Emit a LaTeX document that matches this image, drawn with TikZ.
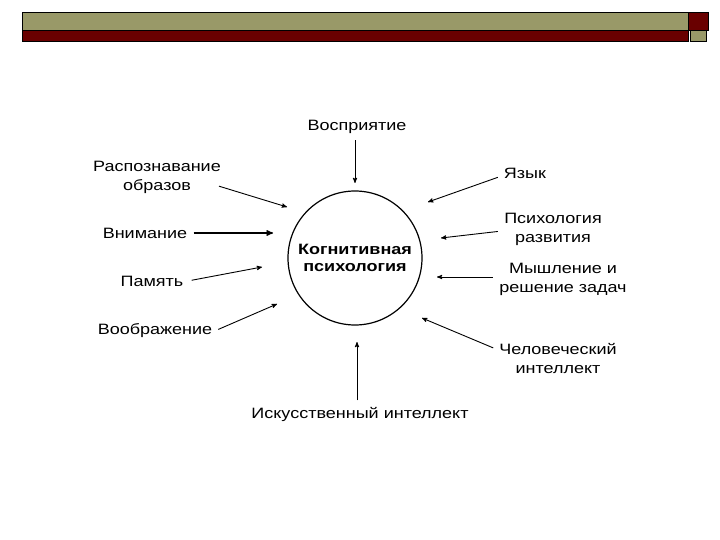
\documentclass[tikz,border=0pt]{standalone}
\usepackage{fontspec}
\setmainfont{Liberation Sans}
\newfontfamily\widesans[FakeStretch=1.2]{Liberation Sans}
\usetikzlibrary{arrows}

\definecolor{barolive}{RGB}{153,153,104}
\definecolor{barred}{RGB}{105,0,0}

\begin{document}
\begin{tikzpicture}[x=1pt,y=-1pt,->,>=stealth',thick,
  topic/.style={font=\widesans\fontsize{15}{19}\selectfont,align=center,inner sep=2pt},
  core/.style={circle,draw,line width=1.2pt,minimum size=134pt,align=center,
    font=\widesans\fontsize{15}{17}\selectfont\bfseries},
  feed/.style={line width=0.9pt,shorten <=4pt}]

  \useasboundingbox (0,0) rectangle (720,540);

  % title bar
  \fill[barolive,draw=black,line width=0.6pt] (22,12) rectangle (688,30);
  \fill[barred,draw=black,line width=0.6pt] (22,30) rectangle (688,41);
  \fill[barred,draw=black,line width=0.6pt] (688,12) rectangle (708,30);
  \fill[barolive,draw=black,line width=0.6pt] (690,30) rectangle (706,41);

  \node[core] (cog) at (355,258) {Когнитивная\\психология};

  \node[topic] (vospr) at (357,127) {Восприятие};
  \node[topic] (rasp) at (157,177) {Распознавание\\образов};
  \node[topic] (vnim) at (145,233) {Внимание};
  \node[topic] (pam) at (152,281) {Память};
  \node[topic] (voobr) at (155,331) {Воображение};
  \node[topic] (yazyk) at (525,173) {Язык};
  \node[topic] (psix) at (553,229) {Психология\\развития};
  \node[topic] (mysh) at (563,279) {Мышление и\\решение задач};
  \node[topic] (chel) at (558,359) {Человеческий\\интеллект};
  \node[topic] (iskus) at (360,414) {Искусственный интеллект};

  \coordinate (t1) at (355,183);
  \coordinate (t2) at (287,207);
  \coordinate (t3) at (273,233);
  \coordinate (t4) at (262,267);
  \coordinate (t5) at (277,304);
  \coordinate (t6) at (428,202);
  \coordinate (t7) at (441,238);
  \coordinate (t8) at (437,277);
  \coordinate (t9) at (422,318);
  \coordinate (t10) at (357,342);

  \path[feed]
    ([xshift=-2pt]vospr.south) edge (t1)
    ([xshift=-8pt,yshift=-8pt]rasp.east) edge (t2)
    (vnim.east) edge[line width=1.3pt] (t3)
    ([xshift=2pt]pam.east) edge (t4)
    (voobr.east) edge (t5)
    ([yshift=-3pt]yazyk.west) edge (t6)
    ([yshift=-2pt]psix.west) edge (t7)
    ([yshift=2pt]mysh.west) edge (t8)
    ([yshift=-8pt]chel.north west) edge (t9)
    ([xshift=-3pt]iskus.north) edge (t10);

\end{tikzpicture}
\end{document}
